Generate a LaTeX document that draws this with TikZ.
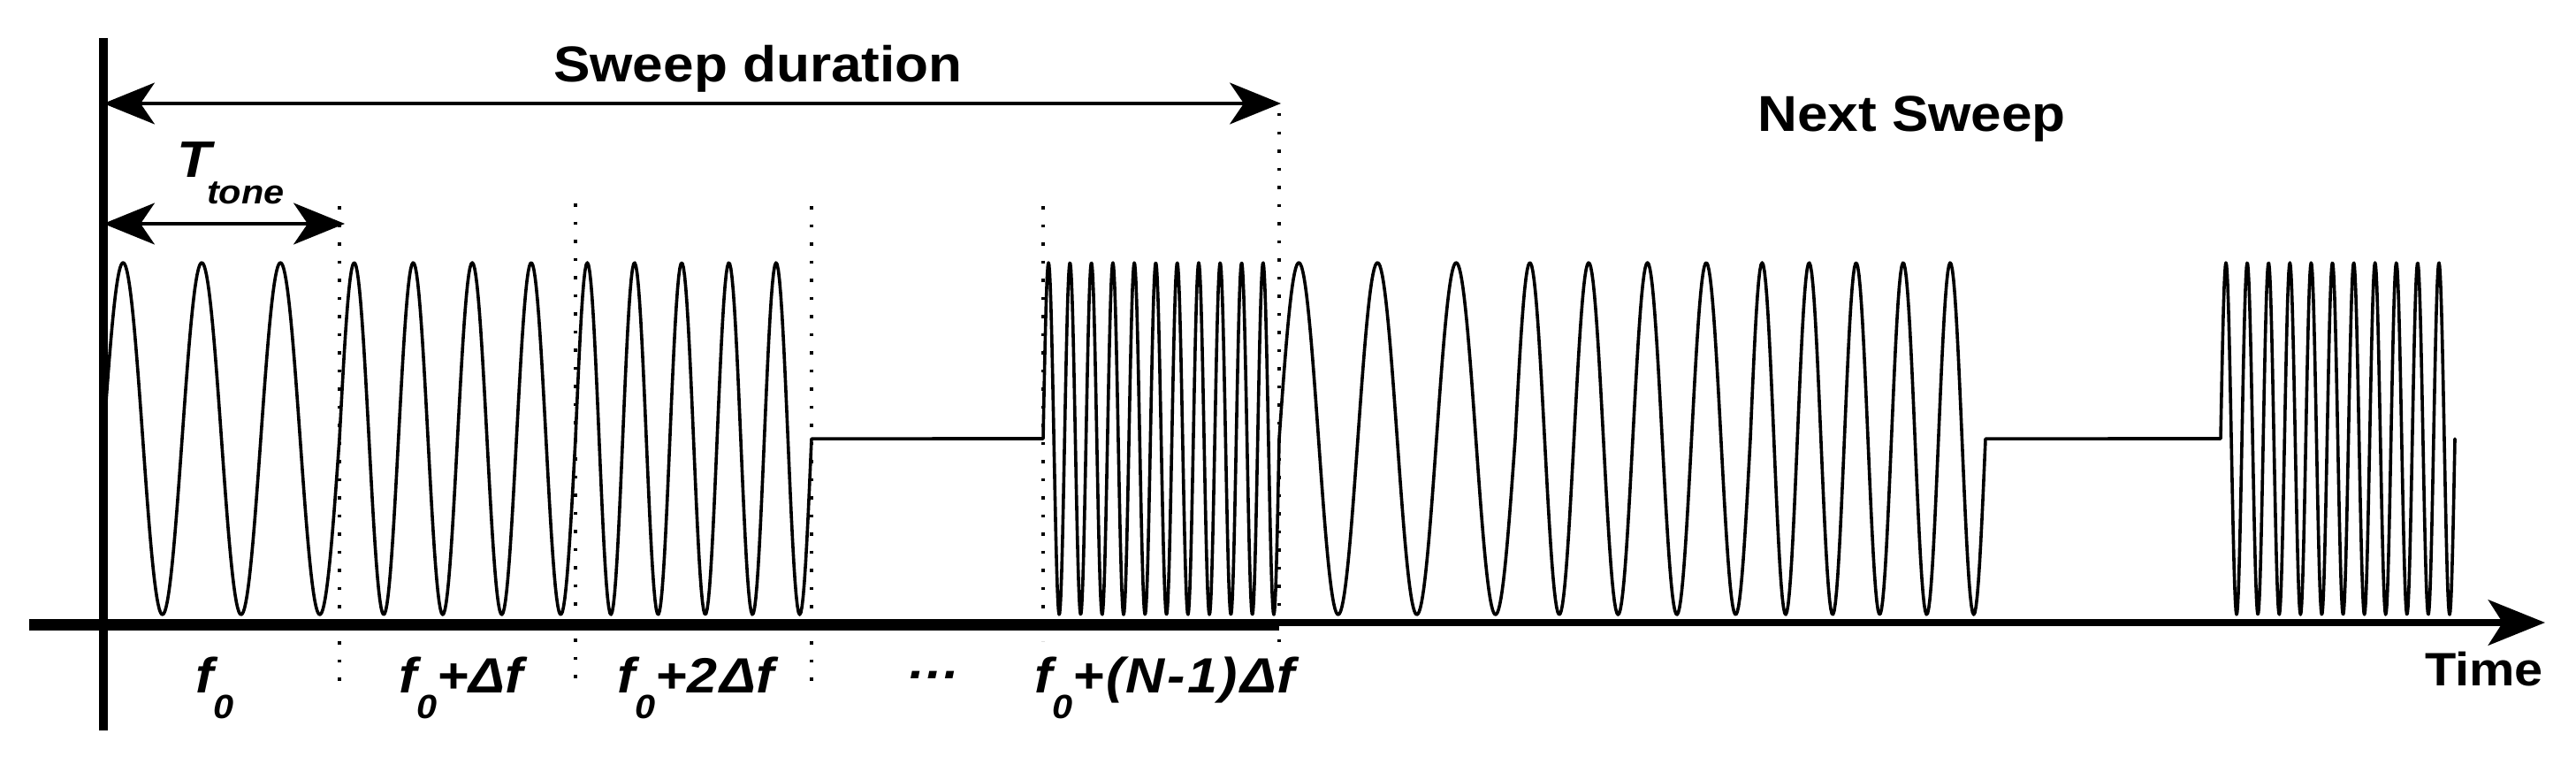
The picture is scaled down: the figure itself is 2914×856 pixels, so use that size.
\documentclass[tikz,border=0pt]{standalone}
\usepackage{fontspec}
\newfontfamily\figfont{Liberation Sans}[FakeStretch=1.09]
\usetikzlibrary{arrows.meta}
\newcommand\fzero{f\raisebox{-29pt}{\fontsize{38}{38}\selectfont 0}}
\begin{document}
\begin{tikzpicture}[x=1pt,y=-1pt,
  sig/.style={line width=3.6pt, line join=round, line cap=round},
  dotline/.style={line width=3.5pt, dash pattern=on 3.5pt off 17pt},
  dimarrow/.style={line width=3.3pt,
    {Stealth[length=58pt,width=47pt,inset=16pt]}-{Stealth[length=58pt,width=47pt,inset=16pt]}},
  txt/.style={inner sep=0pt, anchor=base west, font=\figfont\bfseries\fontsize{57}{57}\selectfont},
  lbl/.style={inner sep=0pt, anchor=base west, font=\figfont\bfseries\itshape\fontsize{56}{56}\selectfont}]
\useasboundingbox (0,0) rectangle (2914,856);
\fill[white] (0,0) rectangle (2914,856);

% dotted tone boundaries
\coordinate (d1t) at (384,233);  \coordinate (d1b) at (384,771);
\coordinate (d2t) at (651,230);  \coordinate (d2b) at (651,771);
\coordinate (d3t) at (918,233);  \coordinate (d3b) at (918,771);
\coordinate (d4t) at (1180,233); \coordinate (d4b) at (1180,725);
\coordinate (d5t) at (1447,128); \coordinate (d5b) at (1447,733);
\draw[dotline] (d1t) -- (d1b);
\draw[dotline] (d2t) -- (d2b);
\draw[dotline] (d3t) -- (d3b);
\draw[dotline] (d4t) -- (d4b);
\draw[dotline] (d5t) -- (d5b);

% signal: first sweep
\draw[sig] plot[domain=117:384, samples=200] (\x, {496-199*sin((\x-117)/267*1080)})
  -- plot[domain=384:651, samples=200] (\x, {496-199*sin((\x-384)/267*1440)})
  -- plot[domain=651:918, samples=200] (\x, {496-199*sin((\x-651)/267*1800)})
  -- (1180,496)
  -- plot[domain=1180:1447, samples=400] (\x, {496-199*sin((\x-1180)/267*3960)});
% signal: next sweep
\draw[sig] plot[domain=1447:1714, samples=200] (\x, {496-199*sin((\x-1447)/267*1080)})
  -- plot[domain=1714:1980, samples=200] (\x, {496-199*sin((\x-1714)/266*1440)})
  -- plot[domain=1980:2246, samples=200] (\x, {496-199*sin((\x-1980)/266*1800)})
  -- (2512,496)
  -- plot[domain=2512:2777, samples=400] (\x, {496-199*sin((\x-2512)/265*3960)});

% axes
\coordinate (xl) at (33,704);
\coordinate (xr) at (2879,704);
\coordinate (yt) at (117,43);
\coordinate (yb) at (117,826);
\fill (33,700) rectangle (1447,713);
\draw[line width=8.5pt, -{Stealth[length=64pt,width=51pt,inset=16pt]}] (xl) -- (xr);
\draw[line width=10pt] (yt) -- (yb);

% dimension arrows
\coordinate (swl) at (117,117);
\coordinate (swr) at (1449,117);
\draw[dimarrow] (swl) -- (swr);
\coordinate (ttl) at (117,253);
\coordinate (ttr) at (390,253);
\draw[dimarrow] (ttl) -- (ttr);

% texts
\node[txt] (sweep) at (626,93) {Sweep duration};
\node[txt] (next) at (1988,148) {Next Sweep};
\node[txt, font=\figfont\bfseries\fontsize{53}{53}\selectfont] (time) at (2743,775) {Time};
\node[lbl, font=\figfont\bfseries\itshape\fontsize{58}{58}\selectfont] (T) at (200,200) {T};
\node[lbl, font=\figfont\bfseries\itshape\fontsize{38}{38}\selectfont] (tone) at (234,230) {tone};

\node[lbl] (l0) at (221,783) {\fzero};
\node[lbl] (l1) at (451,783) {\fzero+Δf};
\node[lbl] (l2) at (698,783) {\fzero+2\kern3ptΔf};
\node[lbl] (l3) at (1026,767) {…};
\node[lbl] (lN) at (1170,783) {\fzero+\kern2pt(\kern2ptN\kern3pt-\kern3pt1\kern2pt)\kern3ptΔf};
\end{tikzpicture}
\end{document}
